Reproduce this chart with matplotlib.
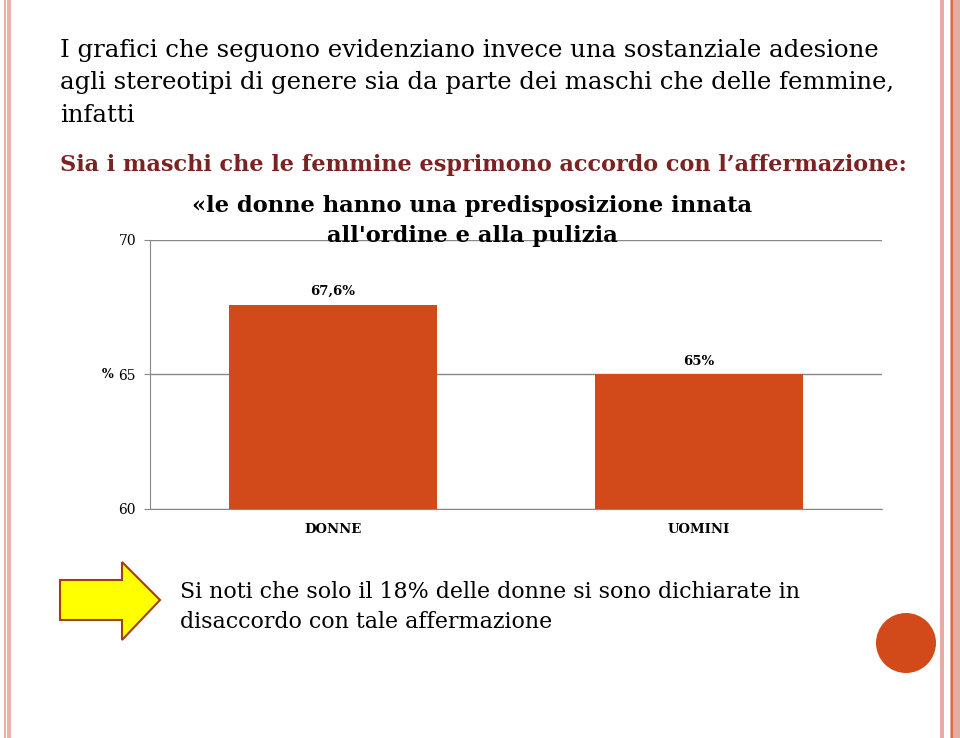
import matplotlib.pyplot as plt
from matplotlib.patches import Polygon, Ellipse, Rectangle

categories = ['DONNE', 'UOMINI']
values = [67.6, 65]
value_labels = ['67,6%', '65%']
y_ticks = [60, 65, 70]

W, H = 960, 738
bar_color = '#D24A1A'
dark_red = '#7B2222'
serif = ['DejaVu Serif']


def fx(x):
    return x / W


def fy(y):
    return 1 - y / H


fig = plt.figure(figsize=(9.6, 7.38), dpi=100)
fig.patch.set_facecolor('white')

# border stripes
for x0, w, c in [(4, 2, '#E8B4AC'), (7, 4, '#E8B4AC'),
                 (940, 4, '#E5ACA3'), (950, 1, '#E5ACA3'), (953, 7, '#E5ACA3'),
                 (951, 2, '#E06A45')]:
    fig.add_artist(Rectangle((fx(x0), 0), w / W, 1, transform=fig.transFigure,
                             facecolor=c, lw=0, antialiased=False))

# intro text
fig.text(fx(60), fy(50), 'I grafici che seguono evidenziano invece una sostanziale adesione',
         fontsize=17.6, family=serif, va='center')
fig.text(fx(60), fy(82), 'agli stereotipi di genere sia da parte dei maschi che delle femmine,',
         fontsize=17.6, family=serif, va='center')
fig.text(fx(60), fy(115), 'infatti', fontsize=17.6, family=serif, va='center')
fig.text(fx(60), fy(165), "Sia i maschi che le femmine esprimono accordo con l\u2019affermazione:",
         fontsize=16.1, family=serif, weight='bold', color=dark_red, va='center')

ax = fig.add_axes([fx(150), fy(509), 732 / W, 269 / H])
x = list(range(len(categories)))
ax.bar(x, values, width=0.57, color=bar_color)
ax.set_xlim(-0.5, 1.5)
ax.set_ylim(60, 70)
ax.set_yticks(y_ticks)
ax.set_yticklabels([str(t) for t in y_ticks], family=serif, fontsize=10)
ax.set_xticks(x)
ax.set_xticklabels(categories, family=serif, fontsize=9.5, weight='bold')
ax.tick_params(axis='x', length=0, pad=10)
ax.tick_params(axis='y', length=4, color='#888888', pad=6)
ax.yaxis.grid(True, color='#888888', lw=1)
ax.set_axisbelow(True)
ax.spines['right'].set_visible(False)
ax.spines['top'].set_visible(False)
for s in ['left', 'bottom']:
    ax.spines[s].set_color('#888888')
for xi, v, lab in zip(x, values, value_labels):
    ax.annotate(lab, (xi, v), xytext=(0, 5), textcoords='offset points',
                ha='center', va='bottom', family=serif, fontsize=9.5, weight='bold')
ax.set_ylabel('%', rotation=0, family=serif, fontsize=9, weight='bold', va='center')
ax.yaxis.set_label_coords(-0.058, 0.5)

fig.text(fx(472), fy(206), '\u00able donne hanno una predisposizione innata',
         fontsize=16.3, family=serif, weight='bold', ha='center', va='center')
fig.text(fx(472), fy(236), "all'ordine e alla pulizia",
         fontsize=16.3, family=serif, weight='bold', ha='center', va='center')

# arrow
pts = [(60, 580), (122, 580), (122, 562), (160, 600), (122, 640), (122, 620), (60, 620)]
fig.add_artist(Polygon([(fx(a), fy(b)) for a, b in pts], closed=True,
                       transform=fig.transFigure, facecolor='#FFFF00',
                       edgecolor='#A0400A', lw=1.5))

fig.text(fx(180), fy(592), 'Si noti che solo il 18% delle donne si sono dichiarate in',
         fontsize=15.9, family=serif, va='center')
fig.text(fx(180), fy(622), 'disaccordo con tale affermazione',
         fontsize=15.9, family=serif, va='center')

fig.add_artist(Ellipse((fx(906), fy(643)), 60 / W, 60 / H, transform=fig.transFigure,
                       color=bar_color, lw=0))

fig.savefig('out.png', dpi=100)
